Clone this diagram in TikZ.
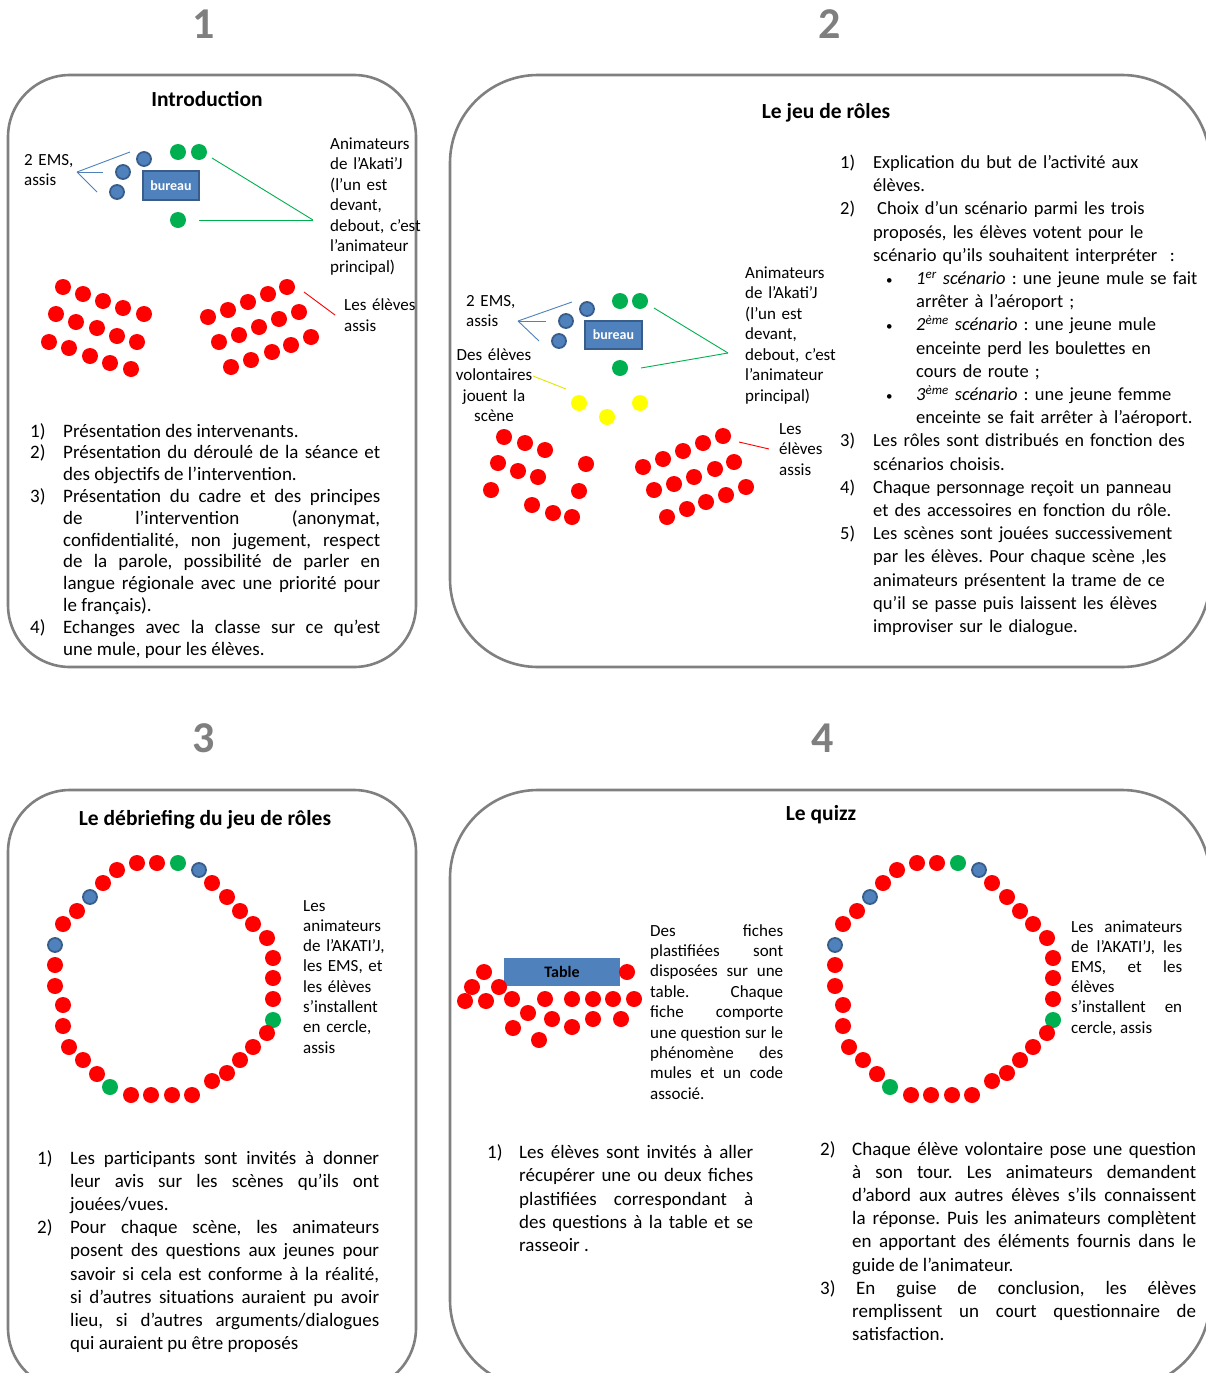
\documentclass[tikz,border=0pt]{standalone}
\usepackage{fontspec}
\setmainfont{Carlito}
\definecolor{frameg}{HTML}{808080}
\definecolor{numg}{HTML}{7F7F7F}
\definecolor{dblue}{HTML}{4F81BD}
\definecolor{dblueb}{HTML}{385D8A}
\definecolor{dgreen}{HTML}{00B050}
\definecolor{dred}{HTML}{FF0000}
\definecolor{dyellow}{HTML}{FFFF00}
\tolerance=10000
\hyphenpenalty=10000
\frenchspacing
\newcommand{\litem}[3]{\noindent\hangindent=#1pt\hangafter=1\makebox[#1pt][l]{#2}#3\par}
\newcommand{\bitem}[1]{\noindent\hangindent=76pt\hangafter=1\hspace*{46pt}\makebox[30pt][l]{\fontsize{13}{13}\selectfont\textbullet}#1\par}
\tikzset{
  panel/.style={draw=frameg, line width=2.6pt},
  rdot/.style={circle, fill=dred, inner sep=0pt, minimum size=16pt},
  gdot/.style={circle, fill=dgreen, inner sep=0pt, minimum size=16pt},
  ydot/.style={circle, fill=dyellow, inner sep=0pt, minimum size=16pt},
  bdot/.style={circle, fill=dblue, draw=dblueb, line width=1.8pt, inner sep=0pt, minimum size=14pt},
  bureaubox/.style={rectangle, fill=dblue, draw=dblueb, line width=1.8pt, inner sep=0pt, text=white, font=\fontsize{14}{16}\selectfont\bfseries},
  tablebox/.style={rectangle, fill=dblue, inner sep=0pt, text=black, font=\fontsize{16}{18}\selectfont\bfseries},
  lbl/.style={inner sep=0pt, anchor=base west, align=left, font=\fontsize{17}{20.5}\selectfont},
  lblj/.style={inner sep=0pt, anchor=base west, align=justify, font=\fontsize{17}{20.3}\selectfont},
  body/.style={inner sep=0pt, anchor=base west, align=justify, font=\fontsize{19}{23.2}\selectfont},
  title/.style={inner sep=0pt, anchor=base, font=\fontsize{21.5}{25}\selectfont\bfseries},
  bignum/.style={inner sep=0pt, anchor=base, text=numg, font=\fontsize{44}{50}\selectfont\bfseries},
  bline/.style={draw=dblue, line width=0.9pt},
  gline/.style={draw=dgreen, line width=0.9pt},
  rline/.style={draw=dred, line width=0.9pt},
  yline/.style={draw=dyellow!90!black, line width=0.9pt},
}
\begin{document}
\begin{tikzpicture}[x=1pt, y=-1pt]
\useasboundingbox (0,0) rectangle (1206,1373);
\clip (0,0) rectangle (1206,1373);
\fill[white] (0,0) rectangle (1206,1373);

% ---------- numbers ----------
\node[bignum] (n1) at (204,38) {1};
\node[bignum] (n2) at (830,38) {2};
\node[bignum] (n3) at (204,752) {3};
\node[bignum] (n4) at (823,752) {4};

% ---------- frames ----------
\draw[panel, rounded corners=62pt] (8,75) rectangle (416,667);
\draw[panel, rounded corners=88pt] (450,75) rectangle (1210,667);
\draw[panel, rounded corners=62pt] (8,790) rectangle (416,1390);
\draw[panel, rounded corners=88pt] (450,790) rectangle (1210,1388);

% ---------- titles ----------
\node[title] (t1) at (207,106) {Introduction};
\node[title] (t2) at (826,118) {Le jeu de rôles};
\node[title] (t3) at (205,825) {Le débriefing du jeu de rôles};
\node[title] (t4) at (821,820) {Le quizz};

% ================= PANEL 1 =================
\node[bureaubox, minimum width=56pt, minimum height=29pt] (bur1) at (171,185.5) {bureau};
\node[bdot] (p1b1) at (144,159) {};
\node[bdot] (p1b2) at (123,172) {};
\node[bdot] (p1b3) at (117,192) {};
\node[gdot] (p1g1) at (178,152) {};
\node[gdot] (p1g2) at (199,152) {};
\node[gdot] (p1g3) at (178,220) {};
\foreach \x/\y [count=\i] in {63/287,83/294,103/301,123/308,144/314,56/314,76/322,97/328,117/336,137/342,49/342,69/348,90/356,110/363,131/369}
  \node[rdot] (p1l\i) at (\x,\y) {};
\foreach \x/\y [count=\i] in {208/317,228/310,248/302,268/294,287/287,219/342,239/335,259/327,279/319,299/312,231/367,251/360,272/352,291/345,311/337}
  \node[rdot] (p1r\i) at (\x,\y) {};

\node[lbl, text width=60pt] (p1ems) at (24,165) {2 EMS,\\assis};
\node[lbl, text width=95pt] (p1anim) at (330,149) {Animateurs\\de l’Akati’J\\(l’un est\\devant,\\debout, c’est\\l’animateur\\principal)};
\node[lbl, text width=80pt, font=\fontsize{17}{21}\selectfont] (p1el) at (344,310) {Les élèves\\assis};

\coordinate (p1ba) at (77,172);
\coordinate (p1b1e) at (130,152);
\coordinate (p1b2e) at (103,172);
\coordinate (p1b3e) at (97,192);
\draw[bline] (p1ba) -- (p1b1e);
\draw[bline] (p1ba) -- (p1b2e);
\draw[bline] (p1ba) -- (p1b3e);
\coordinate (p1ga) at (313,220);
\coordinate (p1g1e) at (212,158);
\coordinate (p1g3e) at (199,220);
\draw[gline] (p1g1e) -- (p1ga);
\draw[gline] (p1g3e) -- (p1ga);
\coordinate (p1rs) at (304,292);
\coordinate (p1re) at (335,315);
\draw[rline] (p1rs) -- (p1re);

\node[body, text width=350pt, font=\fontsize{19}{21.8}\selectfont] (p1txt) at (30,437) {%
\litem{33}{1)}{Présentation des intervenants.}%
\litem{33}{2)}{Présentation du déroulé de la séance et\linebreak des objectifs de l’intervention.}%
\litem{33}{3)}{Présentation du cadre et des principes\linebreak de l’intervention (anonymat,\linebreak confidentialité, non jugement, respect\linebreak de la parole, possibilité de parler en\linebreak langue régionale avec une priorité pour\linebreak le français).}%
\litem{33}{4)}{Echanges avec la classe sur ce qu’est\linebreak une mule, pour les élèves.}};

% ================= PANEL 2 =================
\node[bureaubox, minimum width=57pt, minimum height=28pt] (bur2) at (613.5,335) {bureau};
\node[bdot] (p2b1) at (587,309) {};
\node[bdot] (p2b2) at (566,321) {};
\node[bdot] (p2b3) at (559,341) {};
\node[gdot] (p2g1) at (620,301) {};
\node[gdot] (p2g2) at (640,301) {};
\node[gdot] (p2g3) at (620,368) {};
\node[ydot] (p2y1) at (579,403) {};
\node[ydot] (p2y2) at (607,417) {};
\node[ydot] (p2y3) at (640,403) {};
\foreach \x/\y [count=\i] in {504/437,525/443,545/450,498/463,518/471,538/477,586/464,491/490,579/491,532/505,553/513,572/517}
  \node[rdot] (p2l\i) at (\x,\y) {};
\foreach \x/\y [count=\i] in {643/467,663/459,683/451,703/443,723/436,654/490,674/484,694/477,715/469,734/462,667/517,687/509,706/502,726/495,746/487}
  \node[rdot] (p2r\i) at (\x,\y) {};

\node[lbl, text width=60pt] (p2ems) at (466,306) {2 EMS,\\assis};
\node[lbl, text width=95pt] (p2anim) at (745,278) {Animateurs\\de l’Akati’J\\(l’un est\\devant,\\debout, c’est\\l’animateur\\principal)};
\node[lbl, text width=60pt] (p2el) at (779,434) {Les\\élèves\\assis};
\node[inner sep=0pt, anchor=base, align=center, text width=100pt, font=\fontsize{17}{20.5}\selectfont] (p2vol) at (494,360) {Des élèves\\volontaires\\jouent la\\scène};

\coordinate (p2ba) at (518,321);
\coordinate (p2b1e) at (572,302);
\coordinate (p2b2e) at (546,321);
\coordinate (p2b3e) at (539,341);
\draw[bline] (p2ba) -- (p2b1e);
\draw[bline] (p2ba) -- (p2b2e);
\draw[bline] (p2ba) -- (p2b3e);
\coordinate (p2ga) at (728,353);
\coordinate (p2g1e) at (654,308);
\coordinate (p2g3e) at (641,368);
\draw[gline] (p2g1e) -- (p2ga);
\draw[gline] (p2g3e) -- (p2ga);
\coordinate (p2ys) at (533,376);
\coordinate (p2ye) at (566,389);
\draw[yline] (p2ys) -- (p2ye);
\coordinate (p2rs) at (739,442);
\coordinate (p2re) at (769,449);
\draw[rline] (p2rs) -- (p2re);

\node[body, align=left, text width=364pt, font=\fontsize{18.5}{23.2}\selectfont] (p2txt) at (840,168.5) {%
\litem{33}{1)}{Explication du but de l’activité aux\newline élèves.}%
\litem{33}{2)}{\hspace{4pt}Choix d’un scénario parmi les trois\newline proposés, les élèves votent pour le\newline scénario qu’ils souhaitent interpréter\ \ :}%
\bitem{\textit{1\textsuperscript{er} scénario} : une jeune mule se fait\newline arrêter à l’aéroport ;}%
\bitem{\textit{2\textsuperscript{ème} scénario} : une jeune mule\newline enceinte perd les boulettes en\newline cours de route ;}%
\bitem{\textit{3\textsuperscript{ème} scénario} : une jeune femme\newline enceinte se fait arrêter à l’aéroport.}%
\litem{33}{3)}{Les rôles sont distribués en fonction des\newline scénarios choisis.}%
\litem{33}{4)}{Chaque personnage reçoit un panneau\newline et des accessoires en fonction du rôle.}%
\litem{33}{5)}{Les scènes sont jouées successivement\newline par les élèves. Pour chaque scène ,les\newline animateurs présentent la trame de ce\newline qu’il se passe puis laissent les élèves\newline improviser sur le dialogue.}};

% ================= PANEL 3 =================
\foreach \x/\y/\s [count=\i] in {117/870/rdot,137/863/rdot,157/863/rdot,178/863/gdot,199/870/bdot,212/883/rdot,227/897/rdot,240/911/rdot,253/924/rdot,267/938/rdot,273/958/rdot,273/978/rdot,273/999/rdot,273/1020/gdot,267/1033/rdot,253/1047/rdot,240/1060/rdot,227/1073/rdot,212/1081/rdot,192/1095/rdot,172/1095/rdot,151/1095/rdot,131/1095/rdot,110/1087/gdot,97/1074/rdot,83/1060/rdot,69/1047/rdot,63/1026/rdot,63/1005/rdot,55/986/rdot,55/965/rdot,55/945/bdot,63/924/rdot,77/911/rdot,90/897/bdot,103/883/rdot}
  \node[\s] (p3c\i) at (\x,\y) {};
\node[lbl, text width=90pt, font=\fontsize{17}{20.3}\selectfont] (p3lab) at (303,911) {Les\\animateurs\\de l’AKATI’J,\\les EMS, et\\les élèves\\s’installent\\en cercle,\\assis};

\node[body, text width=342pt, font=\fontsize{19}{23.1}\selectfont] (p3txt) at (37,1164.5) {%
\litem{33}{1)}{Les participants sont invités à donner\linebreak leur avis sur les scènes qu’ils ont\linebreak jouées/vues.}%
\litem{33}{2)}{Pour chaque scène, les animateurs\linebreak posent des questions aux jeunes pour\linebreak savoir si cela est conforme à la réalité,\linebreak si d’autres situations auraient pu avoir\linebreak lieu, si d’autres arguments/dialogues\linebreak qui auraient pu être proposés}};

% ================= PANEL 4 =================
\node[tablebox, minimum width=116pt, minimum height=28pt] (tab) at (562,972) {Table};
\foreach \x/\y [count=\i] in {484/972,472/987,499/987,465/1001,486/1001,512/999,545/999,572/999,593/999,613/999,634/999,627/972,528/1013,552/1019,572/1027,593/1019,621/1019,513/1028,539/1040}
  \node[rdot] (p4t\i) at (\x,\y) {};
\foreach \x/\y/\s [count=\i] in {117/870/rdot,137/863/rdot,157/863/rdot,178/863/gdot,199/870/bdot,212/883/rdot,227/897/rdot,240/911/rdot,253/924/rdot,267/938/rdot,273/958/rdot,273/978/rdot,273/999/rdot,273/1020/gdot,267/1033/rdot,253/1047/rdot,240/1060/rdot,227/1073/rdot,212/1081/rdot,192/1095/rdot,172/1095/rdot,151/1095/rdot,131/1095/rdot,110/1087/gdot,97/1074/rdot,83/1060/rdot,69/1047/rdot,63/1026/rdot,63/1005/rdot,55/986/rdot,55/965/rdot,55/945/bdot,63/924/rdot,77/911/rdot,90/897/bdot,103/883/rdot}
  \node[\s] (p4c\i) at (\x+780,\y) {};

\node[lblj, text width=133pt, font=\fontsize{17}{20.4}\selectfont] (p4fich) at (650,936) {Des fiches\linebreak plastifiées sont\linebreak disposées sur une\linebreak table. Chaque\linebreak fiche comporte\linebreak une question sur le\linebreak phénomène des\linebreak mules et un code\linebreak associé.};
\node[lblj, text width=111pt, font=\fontsize{17}{20.2}\selectfont] (p4lab) at (1071,932) {Les animateurs\linebreak de l’AKATI’J, les\linebreak EMS, et les\linebreak élèves\newline s’installent en\linebreak cercle, assis};

\node[body, text width=266pt, font=\fontsize{19}{23.25}\selectfont] (p4txta) at (487,1158.5) {%
\litem{32}{1)}{Les élèves sont invités à aller\linebreak récupérer une ou deux fiches\linebreak plastifiées correspondant à\linebreak des questions à la table et se\linebreak rasseoir .}};
\node[body, text width=376pt, font=\fontsize{19}{23.1}\selectfont] (p4txtb) at (820,1155.5) {%
\litem{32}{2)}{Chaque élève volontaire pose une question\linebreak à son tour. Les animateurs demandent\linebreak d’abord aux autres élèves s’ils connaissent\linebreak la réponse. Puis les animateurs complètent\linebreak en apportant des éléments fournis dans le\linebreak guide de l’animateur.}%
\litem{32}{3)}{\hspace{4pt}En guise de conclusion, les élèves\linebreak remplissent un court questionnaire de\linebreak satisfaction.}};
\end{tikzpicture}
\end{document}
